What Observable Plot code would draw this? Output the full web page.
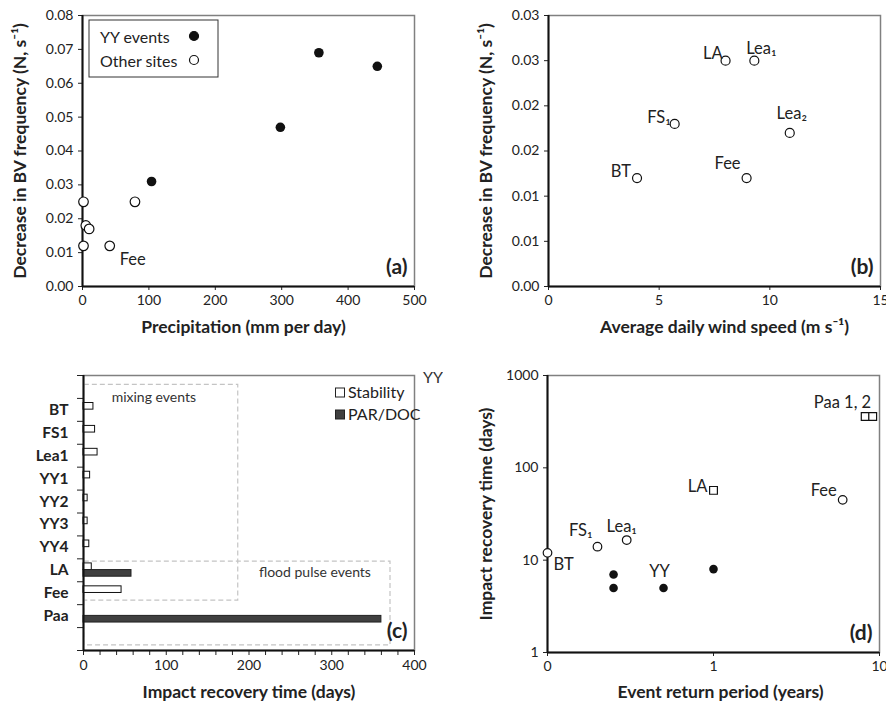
<!DOCTYPE html>
<html><head><meta charset="utf-8">
<script src="https://cdn.jsdelivr.net/npm/d3@7"></script>
<script src="https://cdn.jsdelivr.net/npm/@observablehq/plot@0.6"></script>
<style>
body{margin:0;background:#fff;font-family:Lato,sans-serif;}
#grid{display:grid;grid-template-columns:443px 443px;width:886px;}
#grid svg{display:block;overflow:visible}
</style></head><body>
<div id="grid"><div id="pa"></div><div id="pb"></div><div id="pc"></div><div id="pd"></div></div>
<script>
// ---------- Panel (a) data ----------
const aYYPrecip = [104, 298, 356, 444];
const aYYBV = [0.031, 0.047, 0.069, 0.065];
const aOtherSite = ["", "", "", "", "Fee", ""];
const aOtherPrecip = [1.5, 5, 10, 1.5, 41, 79];
const aOtherBV = [0.025, 0.018, 0.017, 0.012, 0.012, 0.025];
const aXTicks = [0, 100, 200, 300, 400, 500];
const aYTicks = [0, 0.01, 0.02, 0.03, 0.04, 0.05, 0.06, 0.07, 0.08];
const aLegend = ["YY events", "Other sites"];
const aXTitle = "Precipitation (mm per day)";
const bcYTitle = "Decrease in BV frequency (N, s\u207B\u00B9)";

// ---------- Panel (b) data ----------
const bSites = ["LA", "Lea\u2081", "FS\u2081", "Lea\u2082", "BT", "Fee"];
const bWind = [8.0, 9.3, 5.7, 10.9, 4.0, 8.95];
const bBV = [0.025, 0.025, 0.018, 0.017, 0.012, 0.012];
const bXTicks = [0, 5, 10, 15];
const bYTicks = [0, 0.005, 0.01, 0.015, 0.02, 0.025, 0.03];
const bYLabels = ["0.00", "0.01", "0.01", "0.02", "0.02", "0.03", "0.03"];
const bXTitle = "Average daily wind speed (m s\u207B\u00B9)";

// ---------- Panel (c) data ----------
const cCats = ["", "BT", "FS1", "Lea1", "YY1", "YY2", "YY3", "YY4", "LA", "Fee", "Paa", ""];
const cStability = [null, 12, 14, 17, 8, 5, 5, 7, 10, 46, null, null];
const cParDoc = [null, null, null, null, null, null, null, null, 58, null, 360, null];
const cXTicks = [0, 100, 200, 300, 400];
const cLegend = ["Stability", "PAR/DOC"];
const cBoxes = [
  {name: "mixing events", x1: 1, x2: 187, y1: 0.41, y2: 9.82, tx: 34, ty: 0.97},
  {name: "flood pulse events", x1: 1, x2: 371, y1: 8.12, y2: 11.78, tx: 212, ty: 8.58}
];
const cXTitle = "Impact recovery time (days)";

// ---------- Panel (d) data ----------
const dOpenSites = ["BT", "FS\u2081", "Lea\u2081", "Fee"];
const dOpenPeriod = [0.1, 0.2, 0.3, 6.0];
const dOpenRecovery = [12, 14, 16.5, 45];
const dSquareSites = ["LA", "Paa 1, 2", ""];
const dSquarePeriod = [1, 8.2, 9.1];
const dSquareRecovery = [57, 360, 360];
const dYYPeriod = [0.25, 0.25, 0.5, 1];
const dYYRecovery = [7, 5, 5, 8];
const dYYLabel = "YY";
const dXTicks = [0.1, 1, 10];
const dXLabels = ["0", "1", "10"];
const dYTicks = [1, 10, 100, 1000];
const dXTitle = "Event return period (years)";
const dYTitle = "Impact recovery time (days)";

// ---------- common styling ----------
const FONT = "Lato, 'Open Sans', sans-serif";
const style = {fontFamily: FONT, fontSize: "14px", color: "#222", background: "white", overflow: "visible"};
const LBL = 16.5;
const frame = () => Plot.frame({stroke: "#808080", strokeWidth: 1.5});
const xTitle = (t, dy, dx = 0) => Plot.text([t], {text: d => d, frameAnchor: "bottom", lineAnchor: "middle", textAnchor: "middle", dy, dx, fontWeight: "bold", fontSize: 17.5, fill: "#222"});
const yTitle = (t, dx) => Plot.text([t], {text: d => d, frameAnchor: "left", textAnchor: "middle", lineAnchor: "middle", dx, rotate: -90, fontWeight: "bold", fontSize: 17.5, fill: "#222"});
const panelTag = (t) => Plot.text([t], {text: d => d, frameAnchor: "bottom-right", textAnchor: "end", lineAnchor: "middle", dx: -7, dy: -19, fontWeight: "bold", fontSize: 21, fill: "#222"});
const idx = (arr) => arr.map((_, i) => i);

// ---------- (a) ----------
const A = Plot.plot({
  width: 443, height: 350, marginLeft: 82, marginRight: 29, marginTop: 15, marginBottom: 64,
  style,
  x: {domain: [0, 500]},
  y: {domain: [0, 0.08]},
  marks: [
    frame(),
    Plot.axisX({ticks: aXTicks, tickSize: 4, tickPadding: 5, tickFormat: d => String(d), label: null}),
    Plot.axisY({ticks: aYTicks, tickSize: 4, tickPadding: 5, tickFormat: d3.format(".2f"), label: null}),
    Plot.ruleX([0], {stroke: "#111", strokeWidth: 2}),
    Plot.ruleY([0], {stroke: "#111", strokeWidth: 2}),
    Plot.dot(idx(aOtherPrecip), {x: i => aOtherPrecip[i], y: i => aOtherBV[i], r: 4.8, fill: "white", stroke: "#111", strokeWidth: 1.2}),
    Plot.dot(idx(aYYPrecip), {x: i => aYYPrecip[i], y: i => aYYBV[i], r: 4.8, fill: "#111"}),
    Plot.text(idx(aOtherSite).filter(i => aOtherSite[i]), {x: i => aOtherPrecip[i], y: i => aOtherBV[i], text: i => aOtherSite[i], dx: 10, dy: 14, textAnchor: "start", fontSize: LBL, fill: "#222"}),
    panelTag("(a)"),
    xTitle(aXTitle, 41, -5),
    yTitle(bcYTitle, -62)
  ]
});
{
  const g = d3.select(A).append("g").attr("font-family", FONT).attr("font-size", 16).attr("fill", "#222").attr("text-anchor", "start");
  g.append("rect").attr("x", 89).attr("y", 20).attr("width", 129).attr("height", 57).attr("fill", "white").attr("stroke", "#333").attr("stroke-width", 1);
  aLegend.forEach((t, i) => {
    g.append("text").attr("x", 100).attr("y", 37 + i * 24).attr("dy", "0.35em").attr("text-anchor", "start").text(t);
    g.append("circle").attr("cx", 194).attr("cy", 36 + i * 24).attr("r", 4.5)
      .attr("fill", i === 0 ? "#111" : "white").attr("stroke", "#111").attr("stroke-width", 1.2);
  });
}
document.getElementById("pa").append(A);

// ---------- (b) ----------
const bOff = {
  "LA": [-3, -7, "end"], "Lea\u2081": [7, -12, "middle"], "FS\u2081": [-4, -6, "end"],
  "Lea\u2082": [2, -19, "middle"], "BT": [-6, -6, "end"], "Fee": [-6, -14, "end"]
};
const B = Plot.plot({
  width: 443, height: 350, marginLeft: 105, marginRight: 6, marginTop: 15, marginBottom: 64,
  style,
  x: {domain: [0, 15]},
  y: {domain: [0, 0.03]},
  marks: [
    frame(),
    Plot.axisX({ticks: bXTicks, tickSize: 4, tickPadding: 5, tickFormat: d => String(d), label: null}),
    Plot.axisY({ticks: bYTicks, tickSize: 4, tickPadding: 5, tickFormat: d => bYLabels[bYTicks.indexOf(d)], label: null}),
    Plot.ruleX([0], {stroke: "#111", strokeWidth: 2}),
    Plot.ruleY([0], {stroke: "#111", strokeWidth: 2}),
    Plot.dot(idx(bWind), {x: i => bWind[i], y: i => bBV[i], r: 4.5, fill: "white", stroke: "#111", strokeWidth: 1.2}),
    ...bSites.map((s, i) => Plot.text([i], {x: j => bWind[j], y: j => bBV[j], text: j => bSites[j], dx: bOff[s][0], dy: bOff[s][1], textAnchor: bOff[s][2], fontSize: LBL, fill: "#222"})),
    panelTag("(b)"),
    xTitle(bXTitle, 41, 10),
    yTitle(bcYTitle, -62)
  ]
});
document.getElementById("pb").append(B);

// ---------- (c) ----------
const cIdxS = idx(cCats).filter(i => cStability[i] != null);
const cIdxP = idx(cCats).filter(i => cParDoc[i] != null);
const cCenters = idx(cCats).filter(i => cCats[i]).map(i => i + 0.5);
const C = Plot.plot({
  width: 443, height: 353, marginLeft: 83, marginRight: 29, marginTop: 25, marginBottom: 53,
  style,
  x: {domain: [0, 400]},
  y: {domain: [0, cCats.length], reverse: true},
  marks: [
    frame(),
    Plot.rect(cBoxes, {x1: "x1", x2: "x2", y1: "y1", y2: "y2", fill: "none", stroke: "#c4c4c4", strokeWidth: 1.2, strokeDasharray: "5,3"}),
    Plot.text(cBoxes, {x: "tx", y: "ty", text: "name", textAnchor: "start", fontSize: 14, fill: "#333"}),
    Plot.axisX({ticks: d3.range(0, 401, 20), tickSize: 5, tickPadding: 5, tickFormat: d => cXTicks.includes(d) ? String(d) : "", label: null}),
    Plot.axisY({ticks: d3.range(0, cCats.length + 1), tickSize: 6, tickFormat: () => "", label: null}),
    Plot.axisY({ticks: cCenters, tickSize: 0, tickPadding: 15, tickFormat: d => cCats[Math.floor(d)], fontWeight: "bold", fontSize: 15.5, label: null}),
    Plot.rect(cIdxS, {x1: 0, x2: i => cStability[i], y1: i => i + 0.2, y2: i => i + 0.49, fill: "white", stroke: "#111", strokeWidth: 1}),
    Plot.rect(cIdxP, {x1: 0, x2: i => cParDoc[i], y1: i => i + 0.49, y2: i => i + 0.78, fill: "#404040", stroke: "#222", strokeWidth: 1}),
    Plot.ruleX([0], {stroke: "#111", strokeWidth: 2}),
    Plot.ruleY([cCats.length], {stroke: "#111", strokeWidth: 2}),
    panelTag("(c)"),
    xTitle(cXTitle, 42, 0)
  ]
});
{
  const g = d3.select(C).append("g").attr("font-family", FONT).attr("font-size", 16).attr("fill", "#222").attr("text-anchor", "start");
  cLegend.forEach((t, i) => {
    g.append("rect").attr("x", 335.5).attr("y", 38 + i * 22).attr("width", 9).attr("height", 9)
      .attr("fill", i === 0 ? "white" : "#404040").attr("stroke", "#222");
    g.append("text").attr("x", 348).attr("y", 42.5 + i * 22).attr("dy", "0.35em").attr("text-anchor", "start").text(t);
  });
  g.append("text").attr("x", 423).attr("y", 27).attr("dy", "0.35em").attr("text-anchor", "start").attr("fill", "#333").text(dYYLabel);
}
document.getElementById("pc").append(C);

// ---------- (d) ----------
const dOpenOff = {"BT": [6, 12, "start"], "FS\u2081": [-5, -16, "end"], "Lea\u2081": [-5, -13, "middle"], "Fee": [-6, -9, "end"]};
const dSqOff = {"LA": [-6, -4, "end"], "Paa 1, 2": [6, -14, "end"]};
const D = Plot.plot({
  width: 443, height: 353, marginLeft: 104, marginRight: 7, marginTop: 25, marginBottom: 51,
  style,
  x: {type: "log", domain: [0.1, 10]},
  y: {type: "log", domain: [1, 1000]},
  marks: [
    frame(),
    Plot.axisX({ticks: dXTicks, tickSize: 4, tickPadding: 5, tickFormat: d => dXLabels[dXTicks.indexOf(d)], label: null}),
    Plot.axisY({ticks: dYTicks, tickSize: 4, tickPadding: 5, tickFormat: d => String(d), label: null}),
    Plot.ruleX([0.1], {stroke: "#111", strokeWidth: 2}),
    Plot.ruleY([1], {stroke: "#111", strokeWidth: 2}),
    Plot.dot(idx(dSquarePeriod), {x: i => dSquarePeriod[i], y: i => dSquareRecovery[i], symbol: "square", r: 4.4, fill: "white", stroke: "#111", strokeWidth: 1.2}),
    Plot.dot(idx(dOpenPeriod), {x: i => dOpenPeriod[i], y: i => dOpenRecovery[i], r: 4.3, fill: "white", stroke: "#111", strokeWidth: 1.2}),
    Plot.dot(idx(dYYPeriod), {x: i => dYYPeriod[i], y: i => dYYRecovery[i], r: 4.3, fill: "#111"}),
    ...dOpenSites.map((s, i) => Plot.text([i], {x: j => dOpenPeriod[j], y: j => dOpenRecovery[j], text: j => dOpenSites[j], dx: dOpenOff[s][0], dy: dOpenOff[s][1], textAnchor: dOpenOff[s][2], fontSize: LBL, fill: "#222"})),
    ...dSquareSites.filter(s => s).map(s => {
      const i = dSquareSites.indexOf(s);
      return Plot.text([i], {x: j => dSquarePeriod[j], y: j => dSquareRecovery[j], text: j => dSquareSites[j], dx: dSqOff[s][0], dy: dSqOff[s][1], textAnchor: dSqOff[s][2], fontSize: LBL, fill: "#222"});
    }),
    Plot.text([2], {x: j => dYYPeriod[j], y: j => dYYRecovery[j], text: () => dYYLabel, dx: -4, dy: -16, fontSize: LBL, fill: "#222"}),
    panelTag("(d)"),
    xTitle(dXTitle, 40, 7),
    yTitle(dYTitle, -61)
  ]
});
document.getElementById("pd").append(D);
</script>
</body></html>
